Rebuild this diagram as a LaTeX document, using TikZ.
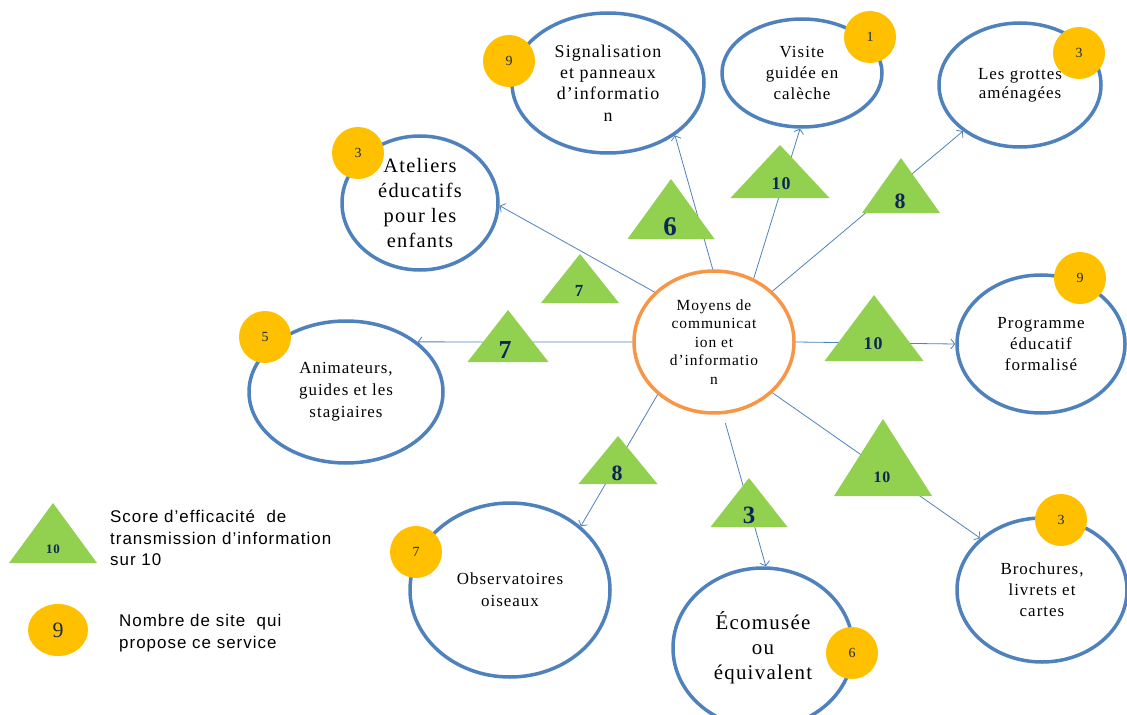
\documentclass[tikz,border=0pt]{standalone}
\usepackage{fontspec}
\setmainfont{Liberation Serif}[LetterSpace=6]
\newfontfamily\legendfont{Liberation Sans}[LetterSpace=6]
\usetikzlibrary{shapes.geometric,arrows.meta}
\definecolor{boxblue}{HTML}{4F81BD}
\definecolor{coreorange}{HTML}{F79646}
\definecolor{scoregreen}{HTML}{92D050}
\definecolor{sitegold}{HTML}{FFC000}
\definecolor{scorenavy}{HTML}{0F2557}
\definecolor{sitenavy}{HTML}{1F2A44}

\begin{document}
\begin{tikzpicture}[x=1bp,y=-1bp,
	means/.style={ellipse,draw=boxblue,line width=3.5bp,fill=white,inner sep=0pt,align=center},
	core/.style={ellipse,draw=coreorange,line width=3.5bp,fill=white,inner sep=0pt,align=center},
	link/.style={draw=boxblue,line width=0.8bp,-{Straight Barb[length=4bp,width=10bp]}},
	sitenum/.style={circle,fill=sitegold,inner sep=0pt,minimum size=52bp,text=sitenavy,font=\fontsize{14}{14}\selectfont},
	scorenum/.style={text=scorenavy,inner sep=0pt}]
		\useasboundingbox (0,0) rectangle (1127,715);
		\node[core,minimum width=160bp,minimum height=142bp,font=\fontsize{15.5}{18.5}\selectfont] (c) at (714,342) {Moyens de\\communicat\\ion et\\d’informatio\\n};
		\node[means,minimum width=192bp,minimum height=140bp,font=\fontsize{18}{21.5}\selectfont] (sig) at (608,83) {Signalisation\\et panneaux\\d’informatio\\n};
		\node[means,minimum width=160bp,minimum height=108bp,font=\fontsize{17}{21.5}\selectfont] (vis) at (802,73) {Visite\\guidée en\\calèche};
		\node[means,minimum width=162bp,minimum height=124bp,font=\fontsize{17}{19.5}\selectfont] (grot) at (1020,85) {Les grottes\\aménagées};
		\node[means,minimum width=156bp,minimum height=134bp,font=\fontsize{20.5}{25}\selectfont] (atel) at (420,203) {Ateliers\\éducatifs\\pour les\\enfants};
		\node[means,minimum width=168bp,minimum height=138bp,font=\fontsize{17}{21}\selectfont] (prog) at (1041,344) {Programme\\éducatif\\formalisé};
		\node[means,minimum width=194bp,minimum height=142bp,font=\fontsize{17}{22}\selectfont] (anim) at (346,392) {Animateurs,\\guides et les\\stagiaires};
		\node[means,minimum width=200bp,minimum height=174bp,font=\fontsize{17}{22}\selectfont] (obs) at (510,590) {Observatoires\\oiseaux};
		\node[means,minimum width=180bp,minimum height=160bp,font=\fontsize{21}{25}\selectfont] (eco) at (763,648) {Écomusée\\ou\\équivalent};
		\node[means,minimum width=170bp,minimum height=144bp,font=\fontsize{17}{21}\selectfont] (broc) at (1042,590) {Brochures,\\livrets et\\cartes};

		\draw[link] (c.91) -- (sig.-38);
		\draw[link] (c.58) -- (vis.-92);
		\draw[link] (c.41) -- (grot.-141);
		\draw[link] (c.140) -- (atel.-2);
		\draw[link] (c.180) -- (anim.35);
		\draw[link] (c.0) -- (prog.180);
		\draw[link] (c.-137) -- (obs.42);
		\draw[link,shorten <=9bp] (c.-83) -- (eco.88);
		\draw[link] (c.-41) -- (broc.140);

		\foreach \n/\x/\y/\w/\h/\tx/\ty/\s/\v in {1/671/239/87/60/670/227/27/6, 2/780/198/99/53/781/184/18/10, 3/901/213/78/55/900/201/22/8, 4/580/303/78/49/579/291/17/7, 5/508/362/81/52/505/350/26/7, 6/874/361/99/66/873/344/18/10, 7/618/484/79/48/617/473/22/8, 8/749/527/77/49/749/515/25/3, 9/883/496/98/77/882/477/16/10, 0/53/563/88/60/53/549/13/10}
		{
		\fill[scoregreen] (\x-\w/2,\y) -- (\x,\y-\h) -- (\x+\w/2,\y) -- cycle;
		\node[scorenum,font=\fontsize{\s}{\s}\selectfont\bfseries] (s\n) at (\tx,\ty) {\v};
		}

		\foreach \n/\x/\y/\v in {1/509/61/9, 2/870/37/1, 3/1079/53/3, 4/358/153/3, 5/1080/278/9, 6/265/337/5, 7/416/552/7, 8/852/653/6, 9/1061/520/3}
		{
		\node[sitenum] (y\n) at (\x,\y) {\v};
		}
		\node[sitenum,ellipse,minimum width=60bp,minimum height=52bp,font=\fontsize{22}{22}\selectfont] (y0) at (58,630) {9};

		\node[anchor=west,align=left,inner sep=0pt,font=\legendfont\fontsize{17}{21.5}\selectfont] (lscore) at (110,538) {Score d’efficacité~ de\\transmission d’information\\sur 10};
		\node[anchor=west,align=left,inner sep=0pt,font=\legendfont\fontsize{17}{21.5}\selectfont] (lsite) at (119,633) {Nombre de site~ qui\\propose ce service};
	\end{tikzpicture}
\end{document}
